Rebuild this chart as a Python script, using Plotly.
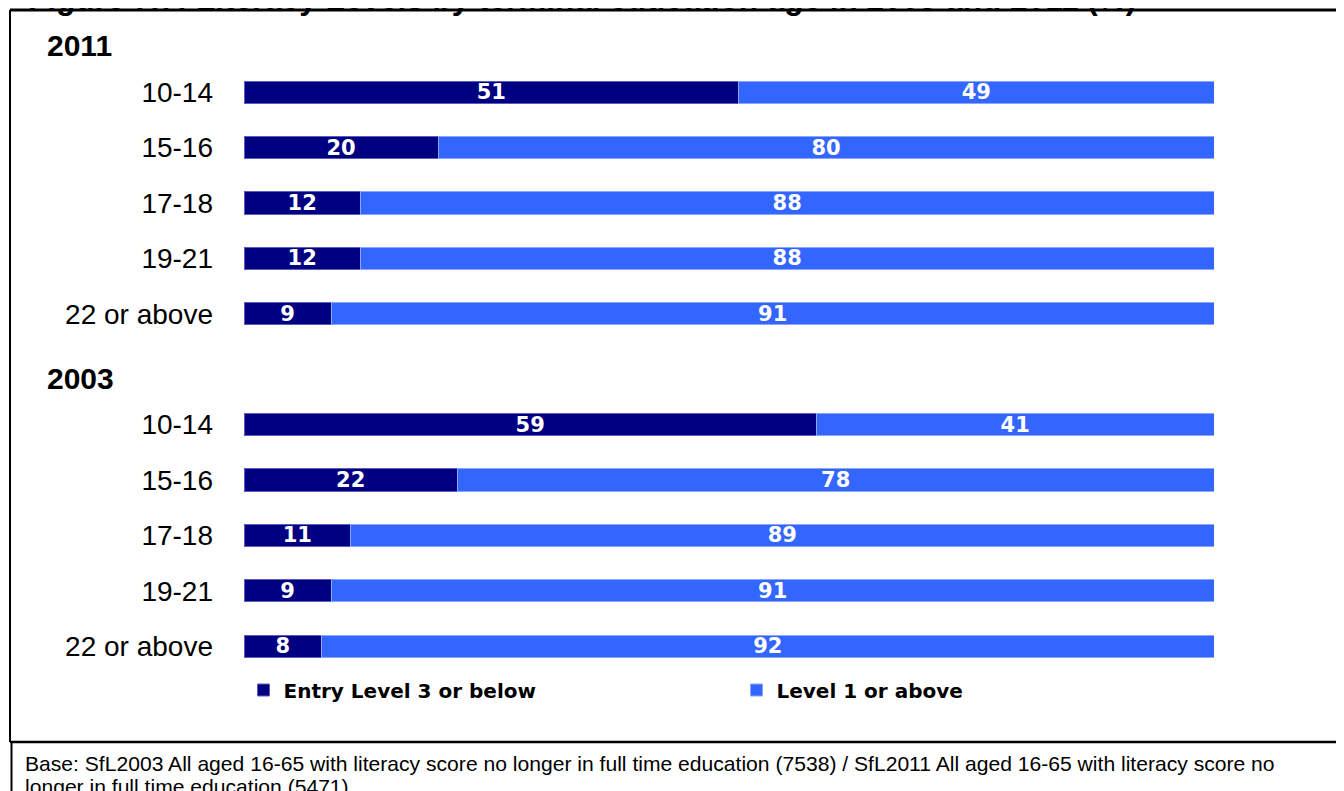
import plotly.graph_objects as go

# ---------------- data ----------------
age_groups = ["10-14", "15-16", "17-18", "19-21", "22 or above"]
years = ["2011", "2003"]
entry_2011 = [51, 20, 12, 12, 9]
level1_2011 = [49, 80, 88, 88, 91]
entry_2003 = [59, 22, 11, 9, 8]
level1_2003 = [41, 78, 89, 91, 92]
series_names = ["Entry Level 3 or below", "Level 1 or above"]
title_text = "Figure 7.7: Literacy Levels by terminal education age in 2003 and 2011 (%)"
base_line1 = ("Base: SfL2003 All aged 16-65 with literacy score no longer in full time education (7538) / "
              "SfL2011 All aged 16-65 with literacy score no")
base_line2 = "longer in full time education (5471)"

# ---------------- layout geometry ----------------
W, H = 1344, 791
OFF = 8  # page body margin offset
ML, MR, MT, MB = 236, 138, 1, 125
PW = W - ML - MR
PH = H - MT - MB

def px_x(px):
    return (px - OFF - ML) / PW

def px_y(py):
    return (H - MB - (py - OFF)) / PH

DARK = "#000080"
BLUE = "#3366FF"
LABEL_FONT = "DejaVu Sans"
ARIAL = "Liberation Sans, Arial, sans-serif"

# rows: heading row then 5 categories per year
group_values = {"2011": (entry_2011, level1_2011), "2003": (entry_2003, level1_2003)}
ys, entry_vals, level_vals, tickvals, ticktext = [], [], [], [], []
heading_rows = {}
row = 0
for yr in years:
    heading_rows[yr] = row
    row += 1
    e, l = group_values[yr]
    for i, cat in enumerate(age_groups):
        ys.append(row)
        entry_vals.append(e[i])
        level_vals.append(l[i])
        tickvals.append(row)
        ticktext.append(cat)
        row += 1

fig = go.Figure()
fig.add_trace(go.Bar(
    y=ys, x=entry_vals, orientation="h", name=series_names[0],
    marker=dict(color=DARK, line=dict(color="#5c5cc0", width=1)),
    text=entry_vals, textposition="inside", insidetextanchor="middle",
    textangle=0, constraintext="none",
    textfont=dict(family=LABEL_FONT, size=21, color="white", weight="bold"),
    width=0.4, hoverinfo="skip",
))
fig.add_trace(go.Bar(
    y=ys, x=level_vals, orientation="h", name=series_names[1],
    marker=dict(color=BLUE, line=dict(color="#8ca6ff", width=1)),
    text=level_vals, textposition="inside", insidetextanchor="middle",
    textangle=0, constraintext="none",
    textfont=dict(family=LABEL_FONT, size=21, color="white", weight="bold"),
    width=0.4, hoverinfo="skip",
))

annotations = []
for yr in years:
    annotations.append(dict(
        text=f"<b>{yr}</b>", x=px_x(45), xref="paper", xanchor="left",
        y=heading_rows[yr], yref="y", yanchor="middle", yshift=-9,
        showarrow=False, font=dict(family=ARIAL, size=30, color="black"),
    ))
annotations.append(dict(
    text=f"<b>{title_text}</b>", x=px_x(26), xref="paper", xanchor="left",
    y=px_y(-1.5), yref="paper", yanchor="middle", showarrow=False,
    font=dict(family=ARIAL, size=31.5, color="black"),
))
annotations.append(dict(
    text=base_line1, x=px_x(23), xref="paper", xanchor="left",
    y=px_y(763), yref="paper", yanchor="middle", align="left", showarrow=False,
    font=dict(family=ARIAL, size=21.1, color="black"),
))
annotations.append(dict(
    text=base_line2, x=px_x(23), xref="paper", xanchor="left",
    y=px_y(786), yref="paper", yanchor="middle", align="left", showarrow=False,
    font=dict(family=ARIAL, size=21.1, color="black"),
))

shapes = [
    dict(type="line", xref="paper", yref="paper", x0=px_x(10), x1=px_x(W + 20),
         y0=px_y(10), y1=px_y(10), line=dict(color="black", width=3)),
    dict(type="line", xref="paper", yref="paper", x0=px_x(10), x1=px_x(10),
         y0=px_y(10), y1=px_y(742), line=dict(color="black", width=2)),
    dict(type="line", xref="paper", yref="paper", x0=px_x(11.5), x1=px_x(11.5),
         y0=px_y(742), y1=px_y(H + 20), line=dict(color="black", width=2)),
    dict(type="line", xref="paper", yref="paper", x0=px_x(10), x1=px_x(W + 20),
         y0=px_y(742), y1=px_y(742), line=dict(color="black", width=2.5)),
]

fig.update_layout(
    width=W, height=H, barmode="stack",
    margin=dict(l=ML, r=MR, t=MT, b=MB),
    plot_bgcolor="white", paper_bgcolor="white",
    xaxis=dict(range=[0, 100], visible=False, fixedrange=True),
    yaxis=dict(range=[row - 0.5, -0.5], tickvals=tickvals, ticktext=ticktext,
               showgrid=False, zeroline=False, showline=False, ticks="",
               ticklabelstandoff=30,
               tickfont=dict(family=ARIAL, size=28, color="black")),
    uniformtext=dict(minsize=21, mode="show"),
    showlegend=True,
    legend=dict(orientation="h", x=px_x(243.5), xanchor="left",
                y=px_y(690), yanchor="middle", traceorder="normal",
                entrywidth=448, entrywidthmode="pixels", itemwidth=30,
                font=dict(family=LABEL_FONT, size=20, color="black", weight="bold"),
                bgcolor="rgba(0,0,0,0)"),
    annotations=annotations, shapes=shapes,
)

fig.write_html("out.html")
